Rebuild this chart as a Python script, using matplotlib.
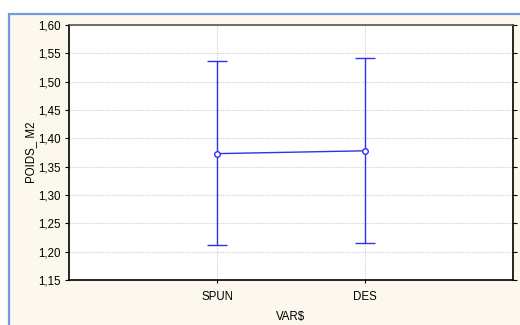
import matplotlib.pyplot as plt
from matplotlib.patches import Rectangle
from matplotlib.ticker import FuncFormatter

# mean and interval bounds for each group
groups = ['SPUN', 'DES']
means = [1.373, 1.378]
upper = [1.537, 1.541]
lower = [1.211, 1.215]

yticks = [1.15, 1.20, 1.25, 1.30, 1.35, 1.40, 1.45, 1.50, 1.55, 1.60]

plt.rcParams['font.family'] = ['Liberation Sans', 'DejaVu Sans']
plt.rcParams['font.size'] = 8.3

W, H = 520, 325
fig = plt.figure(figsize=(W / 100, H / 100), dpi=100)
fig.patch.set_facecolor('white')

# cream panel with blue border behind the axes
fig.patches.append(Rectangle((9 / W, -0.01), 1, 1.01 - 14 / H, transform=fig.transFigure,
                             facecolor='#fdf8ee', edgecolor='#6f9ddb', linewidth=1.6, zorder=-5))

ax = fig.add_axes([69 / W, 1 - 280 / H, (513 - 69) / W, (280 - 25) / H])
ax.set_zorder(2)
ax.set_facecolor('white')

blue = '#3030f0'
x = list(range(1, len(groups) + 1))
yerr = [[m - l for m, l in zip(means, lower)], [u - m for u, m in zip(upper, means)]]
ax.errorbar(x, means, yerr=yerr, color=blue, lw=1.0, capsize=7, capthick=1.0,
            marker='o', markersize=4, markerfacecolor='white', markeredgecolor=blue,
            markeredgewidth=1.0, zorder=3)

ax.set_xlim(0, len(groups) + 1)
ax.set_ylim(1.15, 1.60)
ax.set_xticks(x)
ax.set_xticklabels(groups)
ax.set_yticks(yticks)
ax.yaxis.set_major_formatter(FuncFormatter(lambda v, p: f'{v:.2f}'.replace('.', ',')))

ax.grid(True, color='#cfcfcf', linestyle=(0, (1, 1)), linewidth=0.8)
ax.set_axisbelow(True)
ax.tick_params(axis='y', direction='out', length=3, width=0.8, right=True, pad=3)
ax.tick_params(axis='x', direction='out', length=2, width=0.8, pad=6)
for s in ax.spines.values():
    s.set_linewidth(1.2)
ax.spines['top'].set_color('#555555')

ax.set_ylabel('POIDS_ M2', labelpad=1)
ax.set_xlabel('VAR$', labelpad=6)

fig.savefig('out.png', dpi=100)
